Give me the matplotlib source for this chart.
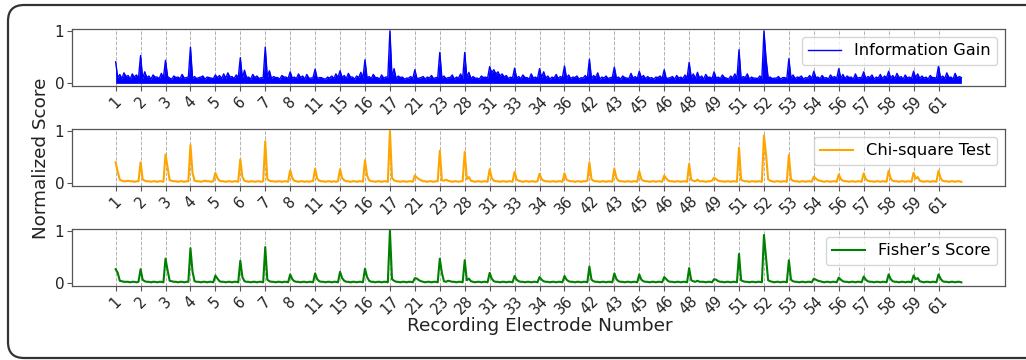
import numpy as np
import matplotlib
matplotlib.use("Agg")
import matplotlib.pyplot as plt
from matplotlib.patches import FancyBboxPatch
from matplotlib.transforms import IdentityTransform

electrodes = ["1", "2", "3", "4", "5", "6", "7", "8", "11", "15", "16", "17", "21", "23",
              "28", "31", "33", "34", "36", "42", "43", "45", "46", "48", "49", "51", "52",
              "53", "54", "56", "57", "58", "59", "61"]

# Per-electrode feature scores (12 features per electrode)
info_gain = [
    [0.41, 0.11, 0.17, 0.09, 0.20, 0.13, 0.15, 0.08, 0.18, 0.12, 0.16, 0.10],
    [0.53, 0.09, 0.22, 0.11, 0.14, 0.08, 0.16, 0.12, 0.12, 0.09, 0.19, 0.11],
    [0.44, 0.13, 0.10, 0.08, 0.14, 0.11, 0.12, 0.09, 0.17, 0.10, 0.11, 0.12],
    [0.69, 0.10, 0.13, 0.09, 0.11, 0.12, 0.14, 0.08, 0.12, 0.11, 0.10, 0.09],
    [0.16, 0.11, 0.15, 0.09, 0.18, 0.10, 0.20, 0.12, 0.13, 0.09, 0.16, 0.11],
    [0.49, 0.10, 0.25, 0.11, 0.12, 0.08, 0.17, 0.11, 0.14, 0.09, 0.11, 0.10],
    [0.69, 0.12, 0.24, 0.09, 0.13, 0.11, 0.11, 0.08, 0.15, 0.12, 0.12, 0.09],
    [0.22, 0.10, 0.12, 0.09, 0.18, 0.11, 0.14, 0.08, 0.17, 0.10, 0.10, 0.11],
    [0.27, 0.09, 0.11, 0.11, 0.09, 0.08, 0.12, 0.10, 0.14, 0.09, 0.18, 0.11],
    [0.24, 0.11, 0.15, 0.09, 0.19, 0.12, 0.12, 0.08, 0.14, 0.11, 0.21, 0.10],
    [0.45, 0.10, 0.13, 0.09, 0.17, 0.11, 0.11, 0.08, 0.16, 0.10, 0.12, 0.12],
    [1.00, 0.11, 0.28, 0.09, 0.14, 0.11, 0.12, 0.08, 0.10, 0.10, 0.13, 0.09],
    [0.26, 0.09, 0.10, 0.11, 0.13, 0.08, 0.12, 0.10, 0.15, 0.09, 0.11, 0.11],
    [0.59, 0.10, 0.14, 0.09, 0.11, 0.11, 0.16, 0.08, 0.12, 0.10, 0.18, 0.09],
    [0.59, 0.11, 0.21, 0.09, 0.13, 0.10, 0.10, 0.08, 0.14, 0.11, 0.12, 0.10],
    [0.32, 0.20, 0.26, 0.18, 0.22, 0.14, 0.18, 0.12, 0.15, 0.09, 0.12, 0.10],
    [0.29, 0.10, 0.13, 0.09, 0.16, 0.11, 0.11, 0.08, 0.18, 0.10, 0.12, 0.09],
    [0.28, 0.11, 0.22, 0.10, 0.14, 0.08, 0.12, 0.10, 0.17, 0.09, 0.13, 0.11],
    [0.33, 0.10, 0.16, 0.09, 0.12, 0.11, 0.14, 0.08, 0.11, 0.10, 0.15, 0.09],
    [0.46, 0.09, 0.15, 0.11, 0.20, 0.08, 0.12, 0.10, 0.14, 0.09, 0.11, 0.11],
    [0.31, 0.10, 0.12, 0.08, 0.14, 0.11, 0.10, 0.09, 0.19, 0.10, 0.13, 0.09],
    [0.23, 0.11, 0.15, 0.09, 0.13, 0.10, 0.11, 0.08, 0.12, 0.11, 0.14, 0.09],
    [0.26, 0.09, 0.10, 0.11, 0.13, 0.08, 0.15, 0.10, 0.12, 0.09, 0.16, 0.10],
    [0.40, 0.11, 0.18, 0.09, 0.21, 0.10, 0.14, 0.08, 0.17, 0.11, 0.12, 0.09],
    [0.22, 0.10, 0.12, 0.09, 0.16, 0.11, 0.10, 0.08, 0.14, 0.10, 0.18, 0.09],
    [0.64, 0.09, 0.13, 0.11, 0.18, 0.08, 0.12, 0.10, 0.10, 0.09, 0.14, 0.10],
    [1.00, 0.47, 0.11, 0.12, 0.09, 0.10, 0.10, 0.13, 0.08, 0.11, 0.11, 0.09],
    [0.47, 0.10, 0.16, 0.09, 0.12, 0.11, 0.14, 0.08, 0.11, 0.10, 0.15, 0.09],
    [0.23, 0.11, 0.12, 0.09, 0.15, 0.10, 0.11, 0.08, 0.16, 0.11, 0.13, 0.09],
    [0.28, 0.10, 0.17, 0.09, 0.14, 0.11, 0.12, 0.08, 0.18, 0.10, 0.11, 0.11],
    [0.22, 0.09, 0.13, 0.11, 0.16, 0.08, 0.12, 0.10, 0.17, 0.09, 0.14, 0.11],
    [0.23, 0.10, 0.15, 0.09, 0.19, 0.11, 0.13, 0.08, 0.16, 0.10, 0.12, 0.09],
    [0.23, 0.11, 0.18, 0.09, 0.14, 0.10, 0.12, 0.08, 0.15, 0.11, 0.11, 0.10],
    [0.33, 0.10, 0.14, 0.09, 0.20, 0.11, 0.12, 0.08, 0.19, 0.10, 0.13, 0.11],
]

chi_square = [
    [0.40, 0.22, 0.07, 0.05, 0.04, 0.04, 0.05, 0.04, 0.04, 0.03, 0.04, 0.04],
    [0.40, 0.08, 0.05, 0.04, 0.04, 0.03, 0.04, 0.04, 0.03, 0.04, 0.04, 0.03],
    [0.55, 0.30, 0.06, 0.05, 0.04, 0.04, 0.03, 0.04, 0.04, 0.03, 0.04, 0.04],
    [0.73, 0.20, 0.05, 0.04, 0.04, 0.03, 0.04, 0.05, 0.04, 0.04, 0.03, 0.04],
    [0.20, 0.10, 0.05, 0.04, 0.04, 0.03, 0.04, 0.04, 0.03, 0.04, 0.04, 0.03],
    [0.46, 0.12, 0.05, 0.04, 0.03, 0.04, 0.04, 0.03, 0.04, 0.04, 0.03, 0.04],
    [0.80, 0.08, 0.05, 0.04, 0.04, 0.03, 0.04, 0.04, 0.03, 0.04, 0.04, 0.03],
    [0.25, 0.10, 0.05, 0.04, 0.03, 0.04, 0.04, 0.03, 0.04, 0.03, 0.04, 0.04],
    [0.28, 0.09, 0.05, 0.04, 0.04, 0.03, 0.04, 0.04, 0.03, 0.04, 0.03, 0.04],
    [0.27, 0.10, 0.06, 0.04, 0.04, 0.03, 0.04, 0.04, 0.03, 0.04, 0.04, 0.03],
    [0.44, 0.15, 0.06, 0.04, 0.04, 0.03, 0.04, 0.04, 0.03, 0.04, 0.04, 0.03],
    [1.00, 0.10, 0.06, 0.04, 0.04, 0.03, 0.04, 0.04, 0.03, 0.04, 0.04, 0.03],
    [0.15, 0.11, 0.08, 0.06, 0.04, 0.04, 0.03, 0.04, 0.04, 0.03, 0.04, 0.04],
    [0.62, 0.06, 0.05, 0.07, 0.05, 0.04, 0.03, 0.04, 0.04, 0.03, 0.04, 0.04],
    [0.60, 0.08, 0.12, 0.05, 0.04, 0.03, 0.04, 0.04, 0.03, 0.04, 0.04, 0.03],
    [0.27, 0.10, 0.05, 0.04, 0.04, 0.03, 0.04, 0.04, 0.03, 0.04, 0.04, 0.03],
    [0.22, 0.07, 0.05, 0.04, 0.03, 0.04, 0.04, 0.03, 0.04, 0.04, 0.03, 0.04],
    [0.18, 0.08, 0.05, 0.04, 0.04, 0.03, 0.04, 0.04, 0.03, 0.04, 0.04, 0.03],
    [0.19, 0.07, 0.05, 0.04, 0.04, 0.03, 0.04, 0.04, 0.03, 0.04, 0.04, 0.05],
    [0.40, 0.08, 0.05, 0.04, 0.04, 0.03, 0.04, 0.04, 0.03, 0.04, 0.04, 0.03],
    [0.28, 0.10, 0.05, 0.04, 0.04, 0.03, 0.04, 0.04, 0.03, 0.04, 0.04, 0.03],
    [0.23, 0.08, 0.05, 0.04, 0.04, 0.03, 0.04, 0.04, 0.03, 0.04, 0.04, 0.03],
    [0.15, 0.09, 0.05, 0.04, 0.04, 0.03, 0.04, 0.04, 0.03, 0.04, 0.04, 0.03],
    [0.37, 0.07, 0.05, 0.04, 0.07, 0.04, 0.04, 0.04, 0.03, 0.04, 0.04, 0.05],
    [0.11, 0.08, 0.05, 0.04, 0.04, 0.03, 0.04, 0.04, 0.03, 0.04, 0.04, 0.03],
    [0.68, 0.07, 0.05, 0.04, 0.04, 0.03, 0.04, 0.04, 0.03, 0.04, 0.04, 0.03],
    [0.91, 0.55, 0.08, 0.05, 0.04, 0.03, 0.04, 0.04, 0.03, 0.04, 0.04, 0.03],
    [0.54, 0.08, 0.05, 0.04, 0.04, 0.03, 0.04, 0.04, 0.03, 0.04, 0.04, 0.03],
    [0.13, 0.09, 0.06, 0.05, 0.04, 0.03, 0.04, 0.04, 0.03, 0.04, 0.04, 0.03],
    [0.17, 0.08, 0.05, 0.04, 0.04, 0.03, 0.04, 0.04, 0.03, 0.04, 0.04, 0.03],
    [0.19, 0.08, 0.05, 0.04, 0.04, 0.03, 0.04, 0.04, 0.03, 0.04, 0.04, 0.03],
    [0.24, 0.09, 0.05, 0.04, 0.04, 0.03, 0.04, 0.04, 0.03, 0.04, 0.04, 0.03],
    [0.20, 0.09, 0.12, 0.05, 0.04, 0.03, 0.04, 0.04, 0.03, 0.04, 0.04, 0.03],
    [0.24, 0.10, 0.05, 0.04, 0.04, 0.03, 0.04, 0.04, 0.03, 0.04, 0.04, 0.03],
]

fisher_score = [
    [0.27, 0.20, 0.05, 0.04, 0.03, 0.03, 0.03, 0.02, 0.03, 0.03, 0.02, 0.03],
    [0.27, 0.07, 0.04, 0.03, 0.03, 0.02, 0.03, 0.03, 0.02, 0.03, 0.03, 0.02],
    [0.47, 0.25, 0.05, 0.04, 0.03, 0.03, 0.02, 0.03, 0.03, 0.02, 0.03, 0.03],
    [0.67, 0.22, 0.04, 0.03, 0.03, 0.02, 0.03, 0.03, 0.02, 0.03, 0.03, 0.02],
    [0.15, 0.09, 0.04, 0.03, 0.03, 0.02, 0.03, 0.03, 0.02, 0.03, 0.03, 0.02],
    [0.43, 0.12, 0.04, 0.03, 0.03, 0.02, 0.03, 0.03, 0.02, 0.03, 0.03, 0.02],
    [0.69, 0.07, 0.04, 0.03, 0.03, 0.02, 0.03, 0.03, 0.02, 0.03, 0.03, 0.02],
    [0.17, 0.08, 0.04, 0.03, 0.03, 0.02, 0.03, 0.03, 0.02, 0.03, 0.03, 0.02],
    [0.19, 0.08, 0.04, 0.03, 0.03, 0.02, 0.03, 0.03, 0.02, 0.03, 0.03, 0.02],
    [0.22, 0.10, 0.05, 0.03, 0.03, 0.02, 0.03, 0.03, 0.02, 0.03, 0.03, 0.02],
    [0.28, 0.12, 0.05, 0.03, 0.03, 0.02, 0.03, 0.03, 0.02, 0.03, 0.03, 0.02],
    [1.00, 0.08, 0.05, 0.03, 0.03, 0.02, 0.03, 0.03, 0.02, 0.03, 0.03, 0.02],
    [0.10, 0.09, 0.06, 0.04, 0.03, 0.02, 0.03, 0.03, 0.02, 0.03, 0.03, 0.02],
    [0.47, 0.20, 0.04, 0.03, 0.05, 0.04, 0.03, 0.03, 0.02, 0.03, 0.03, 0.02],
    [0.44, 0.06, 0.09, 0.04, 0.03, 0.02, 0.03, 0.03, 0.02, 0.03, 0.03, 0.02],
    [0.20, 0.09, 0.04, 0.03, 0.03, 0.02, 0.03, 0.03, 0.02, 0.03, 0.03, 0.02],
    [0.14, 0.07, 0.04, 0.03, 0.03, 0.02, 0.03, 0.03, 0.02, 0.03, 0.03, 0.02],
    [0.12, 0.07, 0.04, 0.03, 0.03, 0.02, 0.03, 0.03, 0.02, 0.03, 0.03, 0.02],
    [0.14, 0.07, 0.04, 0.03, 0.03, 0.02, 0.03, 0.03, 0.02, 0.03, 0.03, 0.02],
    [0.32, 0.07, 0.04, 0.03, 0.03, 0.02, 0.03, 0.03, 0.02, 0.03, 0.03, 0.02],
    [0.19, 0.08, 0.04, 0.03, 0.03, 0.02, 0.03, 0.03, 0.02, 0.03, 0.03, 0.02],
    [0.17, 0.07, 0.04, 0.03, 0.03, 0.02, 0.03, 0.03, 0.02, 0.03, 0.03, 0.02],
    [0.12, 0.08, 0.04, 0.03, 0.03, 0.02, 0.03, 0.03, 0.02, 0.03, 0.03, 0.02],
    [0.29, 0.06, 0.04, 0.03, 0.05, 0.03, 0.03, 0.03, 0.02, 0.03, 0.03, 0.02],
    [0.08, 0.07, 0.04, 0.03, 0.03, 0.02, 0.03, 0.03, 0.02, 0.03, 0.03, 0.02],
    [0.56, 0.06, 0.04, 0.03, 0.03, 0.02, 0.03, 0.03, 0.02, 0.03, 0.03, 0.02],
    [0.92, 0.49, 0.06, 0.04, 0.03, 0.02, 0.03, 0.03, 0.02, 0.03, 0.03, 0.02],
    [0.44, 0.07, 0.04, 0.03, 0.03, 0.02, 0.03, 0.03, 0.02, 0.03, 0.03, 0.02],
    [0.09, 0.07, 0.05, 0.04, 0.03, 0.02, 0.03, 0.03, 0.02, 0.03, 0.03, 0.02],
    [0.11, 0.07, 0.04, 0.03, 0.03, 0.02, 0.03, 0.03, 0.02, 0.03, 0.03, 0.02],
    [0.13, 0.07, 0.04, 0.03, 0.03, 0.02, 0.03, 0.03, 0.02, 0.03, 0.03, 0.02],
    [0.17, 0.08, 0.04, 0.03, 0.03, 0.02, 0.03, 0.03, 0.02, 0.03, 0.03, 0.02],
    [0.15, 0.08, 0.10, 0.04, 0.03, 0.02, 0.03, 0.03, 0.02, 0.03, 0.03, 0.02],
    [0.17, 0.09, 0.04, 0.03, 0.03, 0.02, 0.03, 0.03, 0.02, 0.03, 0.03, 0.02],
]

series_names = ["Information Gain", "Chi-square Test", "Fisher\u2019s Score"]
series_colors = ["blue", "orange", "green"]
series_data = [info_gain, chi_square, fisher_score]
series_filled = [True, False, False]

W, H = 1026, 360
fig = plt.figure(figsize=(W / 100, H / 100), dpi=100)

# rounded outer frame
frame = FancyBboxPatch((8, 2), 1060, 353, boxstyle="round,pad=0,rounding_size=16",
                       transform=IdentityTransform(), facecolor="none",
                       edgecolor="#333333", linewidth=1.6)
fig.patches.append(frame)

left, right = 72 / W, 1005 / W
tops = [28.7, 128.7, 228.7]
ax_h = 57.3

n_el = len(electrodes)
for k, (name, color, data, filled) in enumerate(
        zip(series_names, series_colors, series_data, series_filled)):
    top = tops[k]
    ax = fig.add_axes([left, 1 - (top + ax_h) / H, right - left, ax_h / H])
    arr = np.asarray(data, dtype=float)
    per = arr.shape[1]
    y = arr.ravel()
    x = np.arange(y.size) / per
    if filled:
        ax.fill_between(x, 0, y, color=color, lw=0, zorder=2)
        ax.plot(x, y, color=color, lw=1.0, label=name, zorder=3)
    else:
        ax.plot(x, y, color=color, lw=1.5, label=name, zorder=3)
    ax.set_xticks(np.arange(n_el))
    ax.set_xticklabels(electrodes, rotation=45, fontsize=10.5)
    ax.set_yticks([0, 1])
    ax.set_yticklabels(["0", "1"], fontsize=11)
    ax.set_xlim(-1.75, x[-1] + 1.75)
    ax.set_ylim(-0.05, 1.04)
    ax.grid(axis="x", linestyle="--", color="gray", alpha=0.6, lw=0.7, zorder=0)
    for s in ax.spines.values():
        s.set_color("#555555")
        s.set_linewidth(0.9)
    ax.tick_params(axis="both", colors="#555555", labelcolor="#222222", length=3.5, pad=2)
    ax.legend(loc="upper right", fontsize=11.7, fancybox=True, framealpha=0.8,
              borderaxespad=0.5, handlelength=2.0)

fig.text(41 / W, 1 - 158 / H, "Normalized Score", rotation=90, ha="center", va="center",
         fontsize=13.2, color="#222222")
fig.text(540 / W, 1 - 326 / H, "Recording Electrode Number", ha="center", va="center",
         fontsize=13.3, color="#222222")

fig.savefig("out.png", dpi=100)
